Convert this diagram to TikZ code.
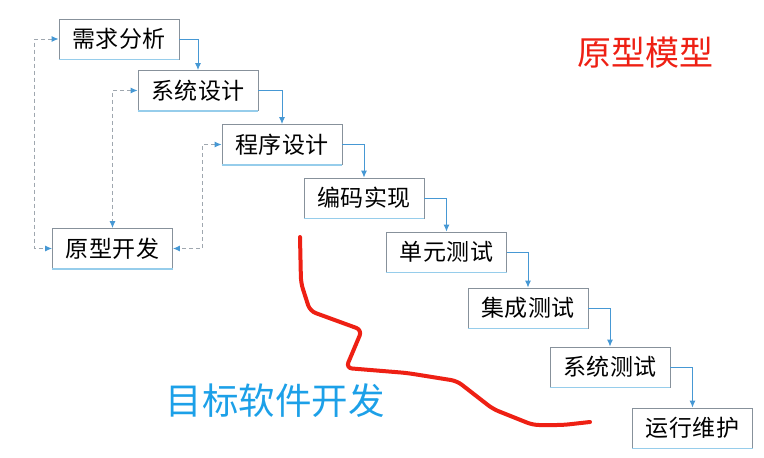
\documentclass[tikz,border=0pt]{standalone}
\usepackage{fontspec}
\setmainfont{Noto Sans CJK SC}
\usepackage{xcolor}
\usepackage{tikz}
\usetikzlibrary{arrows.meta, positioning}

\definecolor{flowblue}{RGB}{70,152,212}
\definecolor{edgeblue}{RGB}{150,205,235}
\definecolor{boxgray}{RGB}{135,145,155}
\definecolor{inkred}{RGB}{238,32,20}
\definecolor{titleblue}{RGB}{28,160,232}

\begin{document}
\begin{tikzpicture}[x=1pt, y=-1pt]
        \tikzstyle{stage} = [rectangle, draw=boxgray, line width=0.8pt, minimum width=120pt, minimum height=40pt, inner sep=0pt, font=\fontsize{23}{26}\selectfont\addfontfeature{LetterSpace=2}]
        \tikzstyle{line} = [draw, flowblue, line width=1pt, -{Latex[length=7pt,width=6pt]}]
        \tikzstyle{feedback} = [draw, boxgray!80, line width=1pt, dash pattern=on 4pt off 3pt, {Latex[length=7pt,width=6pt,color=flowblue]}-{Latex[length=7pt,width=6pt,color=flowblue]}]

        \useasboundingbox (0,0) rectangle (764,458);

        \node [stage] (req) at (119,39) {需求分析};
        \node [stage] (sysd) at (198,90.5) {系统设计};
        \node [stage] (prog) at (282,144.5) {程序设计};
        \node [stage] (code) at (364,198) {编码实现};
        \node [stage] (unit) at (446.5,252) {单元测试};
        \node [stage] (integ) at (528,308) {集成测试};
        \node [stage] (syst) at (610,367) {系统测试};
        \node [stage] (maint) at (692.5,428) {运行维护};
        \node [stage] (proto) at (112.5,248.5) {原型开发};

        % light blue lower edges
        \foreach \n in {req,sysd,prog,code,unit,integ,syst,maint,proto}
            \draw [edgeblue, line width=1.6pt] (\n.south west) -- (\n.south east);

        \path [line] (req.east) -| (sysd.north);
        \path [line] (sysd.east) -| (prog.north);
        \path [line] (prog.east) -| (code.north);
        \path [line] (code.east) -| (unit.north);
        \path [line] (unit.east) -| (integ.north);
        \path [line] (integ.east) -| (syst.north);
        \path [line] (syst.east) -| (maint.north);

        \path [feedback] (req.west) -- ++(-24,0) |- (proto.west);
        \path [feedback] (sysd.west) -| (proto.north);
        \path [feedback] (prog.west) -- ++(-19,0) |- (proto.east);

        \node [text=inkred, font=\fontsize{34}{37}\selectfont] (title) at (645,53) {原型模型};
        \node [text=titleblue, font=\fontsize{36.5}{40}\selectfont] (target) at (275,401) {目标软件开发};

        \draw [inkred, line width=4pt, line cap=round, line join=round, rounded corners=6pt]
            (300,237) -- (301,283) -- (310,311) -- (362,330) -- (346,368)
            -- (407,373) -- (457,381) -- (493,409) -- (533,425) -- (563,425) -- (590,422);
    \end{tikzpicture}
\end{document}
